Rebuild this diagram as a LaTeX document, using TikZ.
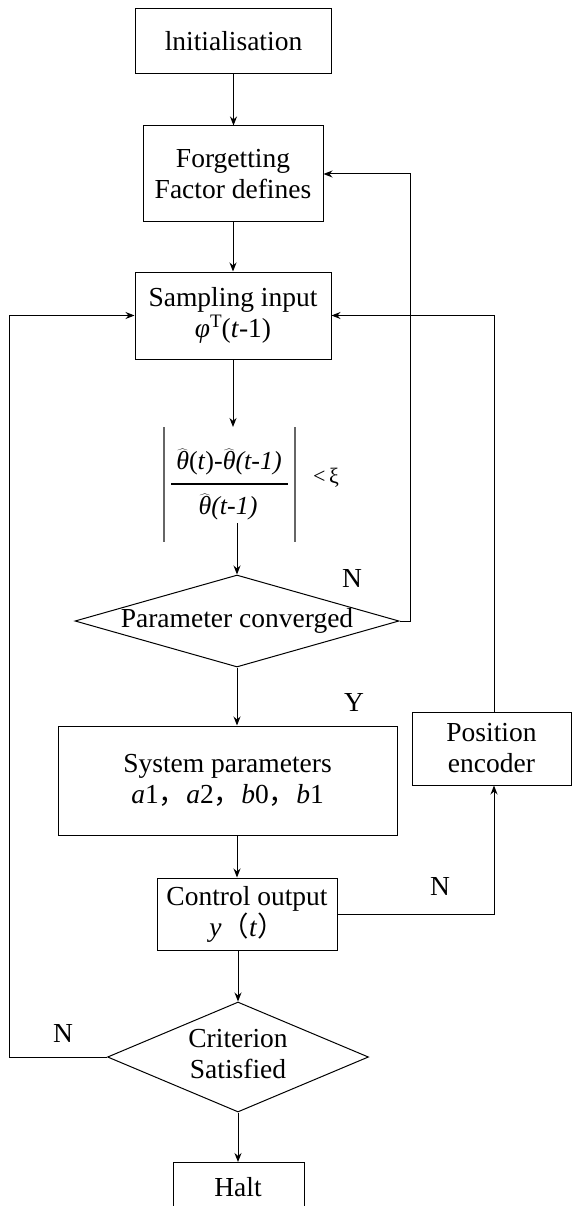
\documentclass[tikz,border=0pt]{standalone}
\usepackage{fontspec}
\setmainfont{Liberation Serif}
\newfontfamily\cjk{Noto Sans CJK SC}
\usetikzlibrary{shapes.geometric,arrows.meta}
\newcommand{\myth}{\ensuremath{\widehat{\hbox{\itshape θ}}}}
\begin{document}
\begin{tikzpicture}[x=1pt,y=-1pt,
  every node/.style={font=\fontsize{27.5}{31}\selectfont},
  box/.style={draw, line width=1pt, inner sep=0pt, align=center},
  dia/.style={draw, diamond, line width=1pt, inner sep=0pt},
  con/.style={line width=1pt},
  bar/.style={line width=1.1pt, black!60},
  arr/.style={con, -{Stealth[length=9pt,width=7pt]}}]
\useasboundingbox (0,0) rectangle (573,1206);

\node[box, minimum width=196pt, minimum height=65pt] (init) at (233.5,41.5) {lnitialisation};
\node[box, minimum width=180pt, minimum height=96pt] (forget) at (233,174) {Forgetting\\Factor defines};
\node[box, minimum width=196pt, minimum height=87pt] (samp) at (233,315.5) {Sampling input\\{\itshape φ}\raisebox{10pt}{\fontsize{19}{20}\selectfont T}(\textit{t}-1)};

% formula
\node[inner sep=0pt, font=\fontsize{26}{30}\selectfont] (num) at (229,462) {\myth(\textit{t})-\myth\textit{(t-1)}};
\node[inner sep=0pt, font=\fontsize{26}{30}\selectfont] (den) at (228,507) {\myth\textit{(t-1)}};
\draw[line width=1.6pt] (171,484) -- (288,484);
\draw[bar] (164,427) -- (164,542);
\draw[bar] (295,427) -- (295,542);
\node[inner sep=0pt, font=\fontsize{22}{26}\selectfont] (lt) at (326,478) {<\,ξ};
\coordinate (ftop) at (233,427);
\coordinate (fbot) at (237,523);

\node[dia, minimum width=324pt, minimum height=92pt] (d1) at (237,621) {\makebox[0pt]{Parameter converged}};
\node[box, minimum width=339pt, minimum height=109pt] (sys) at (227.5,780.5) {System parameters\\\textit{a}1{\cjk，}\textit{a}2{\cjk，}\textit{b}0{\cjk，}\textit{b}1};
\node[box, minimum width=180pt, minimum height=72pt] (ctrl) at (247,914) {Control output\\\textit{y}{\cjk（}\textit{t}{\cjk）}};
\node[box, minimum width=159pt, minimum height=73pt] (pos) at (491.5,748.5) {Position\\encoder};
\node[dia, minimum width=261pt, minimum height=110pt] (d2) at (238,1057) {\makebox[0pt]{\begin{tabular}{@{}c@{}}Criterion\\Satisfied\end{tabular}}};

% Halt (open at bottom)
\node (halt) at (238,1187) {Halt};
\draw[con] (173,1206) -- (173,1162) -- (304,1162) -- (304,1206);
\coordinate (halttop) at (238,1162);

% labels
\node (n1) at (352,578) {N};
\node (y1) at (354,702) {Y};
\node (n2) at (440,886) {N};
\node (n3) at (63,1033) {N};

% connectors
\coordinate (r1) at (410,621);
\coordinate (l1) at (9,1057);
\draw[arr] (init.south) -- (init.south |- forget.north);
\draw[arr] (forget.south) -- (samp.north);
\draw[arr] (samp.south) -- (ftop);
\draw[arr] (fbot) -- (d1.north);
\draw[arr] (d1.east) -- (r1) |- (forget.east);
\draw[arr] (d1.south) -- (d1.south |- sys.north);
\draw[arr] (d1.south |- sys.south) -- (d1.south |- ctrl.north);
\draw[arr] (d2.north |- ctrl.south) -- (d2.north);
\draw[arr] (ctrl.east) -| ([xshift=2.5pt]pos.south);
\draw[arr] ([xshift=2.5pt]pos.north) |- (samp.east);
\draw[arr] (d2.west) -- (l1) |- (samp.west);
\draw[arr] (d2.south) -- (halttop);
\end{tikzpicture}
\end{document}
